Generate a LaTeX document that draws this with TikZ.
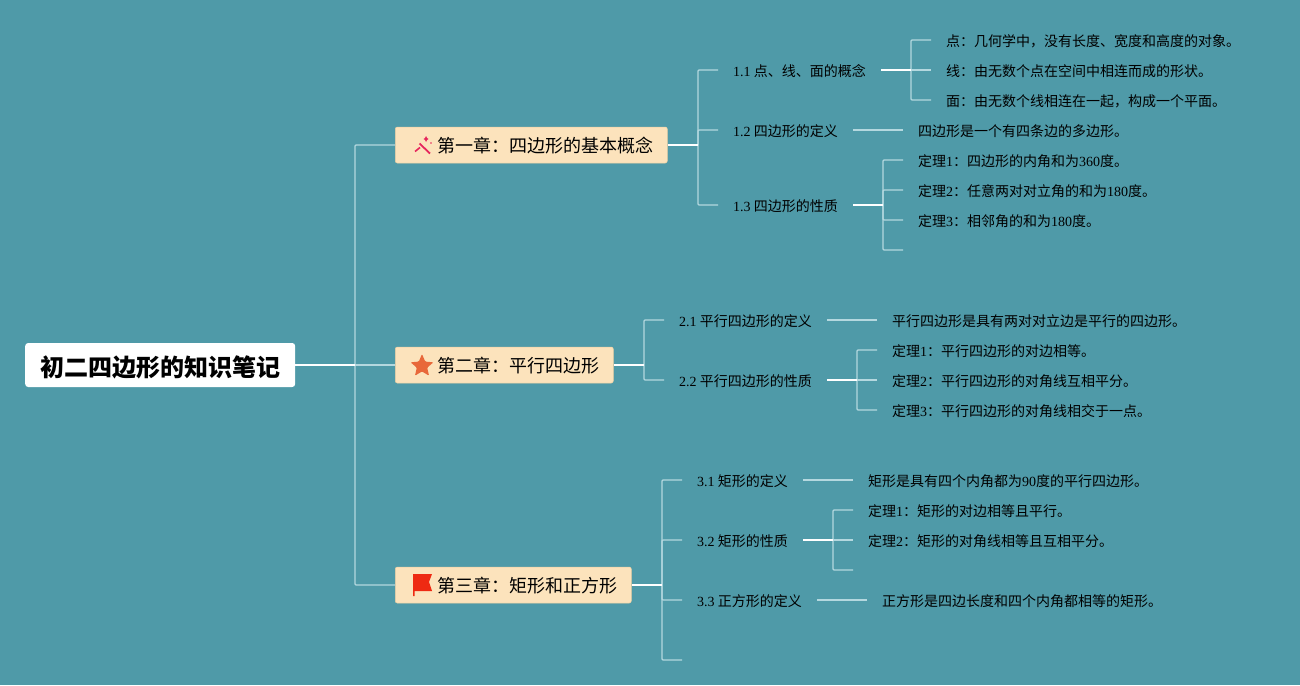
\documentclass[tikz,border=0pt]{standalone}
\usepackage{fontspec}
\setmainfont{Noto Sans CJK SC}
\newfontfamily\numfont{Liberation Serif}
\newcommand{\nm}[1]{{\numfont #1}}
\usetikzlibrary{shapes.geometric}
\definecolor{bg}{HTML}{4F9AA8}
\definecolor{chapter}{HTML}{FCE3BC}
\definecolor{chapline}{HTML}{EBCFA3}
\definecolor{twig}{HTML}{B4D8DF}
\definecolor{wandred}{HTML}{E6265C}
\definecolor{starred}{HTML}{E8683A}
\definecolor{flagred}{HTML}{EE2A12}
\tikzset{
  rootbox/.style={fill=white,rounded corners=3pt,anchor=west,inner xsep=15pt,inner ysep=0pt,
    minimum height=44pt,text height=23pt,text depth=0.8pt,font=\fontsize{24}{24}\selectfont\bfseries},
  chapbox/.style={fill=chapter,draw=chapline,line width=0.5pt,rounded corners=2pt,anchor=west,
    inner xsep=14pt,inner ysep=0pt,minimum height=36pt,text height=16pt,text depth=0.32pt,
    font=\fontsize{18}{18}\selectfont},
  subbox/.style={anchor=west,inner xsep=15pt,inner ysep=0pt,minimum height=20pt,
    text height=13pt,text depth=0.36pt,font=\fontsize{14}{14}\selectfont},
  stem/.style={white,line width=1.6pt},
  branch/.style={twig,line width=1.3pt,rounded corners=1pt},
}
\begin{document}
\begin{tikzpicture}[x=1pt,y=-1pt]
    \fill[bg] (0,0) rectangle (1300,685);
    \useasboundingbox (0,0) rectangle (1300,685);

    % Root and chapters
    \node[rootbox] (root) at (25,365) {初二四边形的知识笔记};
    \node[chapbox] (ch1) at (395,145) {\hspace{28pt}第一章：四边形的基本概念};
    \node[chapbox] (ch2) at (395,365) {\hspace{28pt}第二章：平行四边形};
    \node[chapbox] (ch3) at (395,585) {\hspace{28pt}第三章：矩形和正方形};

    % Chapter icons
    \draw[wandred,line width=1.8pt] (419.5,143.5) -- (430,153.5);
    \draw[wandred,line width=1.6pt] (415,151.5) -- (420,147.5);
    \fill[wandred] (426,136) -- (427,138) -- (428.5,139) -- (427,140) -- (426,142) -- (425,140) -- (423.5,139) -- (425,138) -- cycle;
    \fill[wandred] (431,143) circle (0.9);
    \node[shape=star,star points=5,star point ratio=2.2,fill=starred,inner sep=0pt,minimum size=24pt,rounded corners=1pt] (starmark) at (422,366) {};
    \fill[flagred] (413,574) -- (432,574) -- (429,582) -- (432,591) -- (414.5,591) -- (414.5,596) -- (413,596) -- cycle;

    % Chapter 1
    \node[subbox] (s11) at (718,70) {\nm{1.1} 点、线、面的概念};
    \node[subbox] (s12) at (718,130) {\nm{1.2} 四边形的定义};
    \node[subbox] (s13) at (718,205) {\nm{1.3} 四边形的性质};
    \node[subbox] (p1) at (931,40) {点：几何学中，没有长度、宽度和高度的对象。};
    \node[subbox] (p2) at (931,70) {线：由无数个点在空间中相连而成的形状。};
    \node[subbox] (p3) at (931,100) {面：由无数个线相连在一起，构成一个平面。};
    \node[subbox] (d1) at (903,130) {四边形是一个有四条边的多边形。};
    \node[subbox] (t1) at (903,160) {定理\nm{1}：四边形的内角和为\nm{360}度。};
    \node[subbox] (t2) at (903,190) {定理\nm{2}：任意两对对立角的和为\nm{180}度。};
    \node[subbox] (t3) at (903,220) {定理\nm{3}：相邻角的和为\nm{180}度。};
    \coordinate (t4) at (903,250);

    % Chapter 2
    \node[subbox] (s21) at (664,320) {\nm{2.1} 平行四边形的定义};
    \node[subbox] (s22) at (664,380) {\nm{2.2} 平行四边形的性质};
    \node[subbox] (d2) at (877,320) {平行四边形是具有两对对立边是平行的四边形。};
    \node[subbox] (u1) at (877,350) {定理\nm{1}：平行四边形的对边相等。};
    \node[subbox] (u2) at (877,380) {定理\nm{2}：平行四边形的对角线互相平分。};
    \node[subbox] (u3) at (877,410) {定理\nm{3}：平行四边形的对角线相交于一点。};

    % Chapter 3
    \node[subbox] (s31) at (682,480) {\nm{3.1} 矩形的定义};
    \node[subbox] (s32) at (682,540) {\nm{3.2} 矩形的性质};
    \node[subbox] (s33) at (682,600) {\nm{3.3} 正方形的定义};
    \coordinate (s34) at (682,660);
    \node[subbox] (d3) at (853,480) {矩形是具有四个内角都为\nm{90}度的平行四边形。};
    \node[subbox] (v1) at (853,510) {定理\nm{1}：矩形的对边相等且平行。};
    \node[subbox] (v2) at (853,540) {定理\nm{2}：矩形的对角线相等且互相平分。};
    \coordinate (v3) at (853,570);
    \node[subbox] (d4) at (867,600) {正方形是四边长度和四个内角都相等的矩形。};

    % Bus points
    \coordinate (b0) at (355,365);
    \coordinate (b1) at (698,145);
    \coordinate (b2) at (644,365);
    \coordinate (b3) at (662,585);
    \coordinate (b11) at (911,70);
    \coordinate (b13) at (883,205);
    \coordinate (b22) at (857,380);
    \coordinate (b32) at (833,540);

    % Connectors
    \draw[branch] (b0) |- (ch1.west);
    \draw[branch] (b0) |- (ch3.west);
    \draw[branch] (b0) -- (ch2.west);
    \draw[stem] (root.east) -- (b0);

    \draw[branch] (b1) |- (s11.west);
    \draw[branch] (b1) |- (s12.west);
    \draw[branch] (b1) |- (s13.west);
    \draw[stem] (ch1.east) -- (b1);
    \draw[branch] (b11) |- (p1.west);
    \draw[branch] (b11) -- (p2.west);
    \draw[branch] (b11) |- (p3.west);
    \draw[stem] (s11.east) -- (b11);
    \draw[branch] (s12.east) -- (d1.west);
    \draw[branch] (b13) |- (t1.west);
    \draw[branch] (b13) |- (t2.west);
    \draw[branch] (b13) |- (t3.west);
    \draw[branch] (b13) |- (t4);
    \draw[stem] (s13.east) -- (b13);

    \draw[branch] (b2) |- (s21.west);
    \draw[branch] (b2) |- (s22.west);
    \draw[stem] (ch2.east) -- (b2);
    \draw[branch] (s21.east) -- (d2.west);
    \draw[branch] (b22) |- (u1.west);
    \draw[branch] (b22) -- (u2.west);
    \draw[branch] (b22) |- (u3.west);
    \draw[stem] (s22.east) -- (b22);

    \draw[branch] (b3) |- (s31.west);
    \draw[branch] (b3) |- (s32.west);
    \draw[branch] (b3) |- (s33.west);
    \draw[branch] (b3) |- (s34);
    \draw[stem] (ch3.east) -- (b3);
    \draw[branch] (s31.east) -- (d3.west);
    \draw[branch] (b32) |- (v1.west);
    \draw[branch] (b32) -- (v2.west);
    \draw[branch] (b32) |- (v3);
    \draw[stem] (s32.east) -- (b32);
    \draw[branch] (s33.east) -- (d4.west);
\end{tikzpicture}
\end{document}
